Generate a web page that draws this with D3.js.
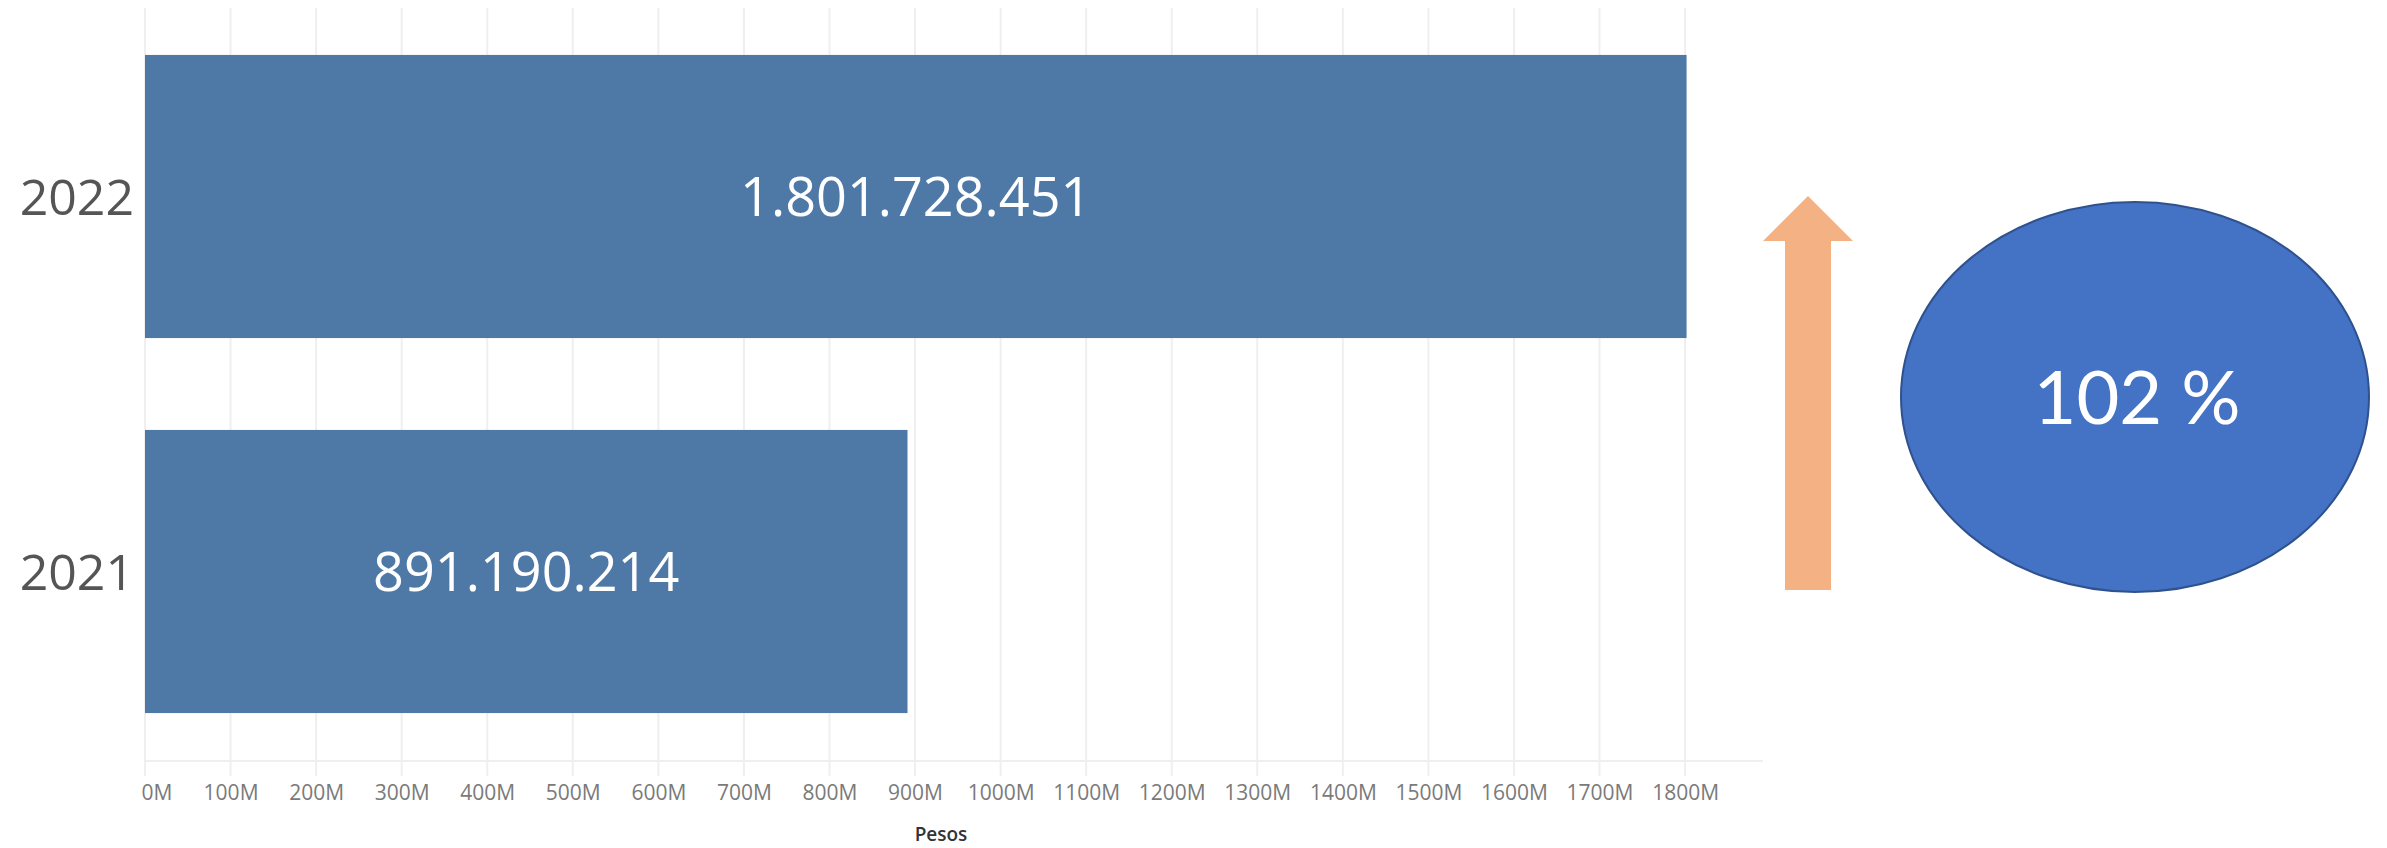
<!DOCTYPE html>
<html>
<head>
	<meta charset="utf-8">
	<title>Pesos 2021-2022</title>
	<script src="https://cdn.jsdelivr.net/npm/d3@7"></script>
</head>
<style type="text/css">
body { margin:0; background:#fff; }
.grid line { stroke:#efefef; stroke-width:2; }
.tick text { font-family:"Open Sans", sans-serif; }
</style>
<body>
</body>
</html>
<script type="text/javascript">
	var years = ["2022", "2021"];
	var values = [1801728451, 891190214];
	var tickValues = [0, 100, 200, 300, 400, 500, 600, 700, 800, 900, 1000, 1100, 1200, 1300, 1400, 1500, 1600, 1700, 1800];
	var axisTitle = "Pesos";

	var w = 2387, h = 848;
	var svg = d3.select("body").append("svg").attr("width", w).attr("height", h);

	var es = d3.formatLocale({decimal: ",", thousands: ".", grouping: [3], currency: ["$", ""]});
	var fmt = es.format(",d");

	var x = d3.scaleLinear()
				.domain([0, 1800])
				.range([145, 145 + 1800 * 0.8556]);
	var y = d3.scaleBand()
				.domain(years)
				.range([9, 759])
				.paddingInner(0.245)
				.paddingOuter(0.1225);

	// vertical gridlines
	svg.append("g").attr("class", "grid").selectAll("line").data(tickValues).enter().append("line")
		.attr("x1", function(d){return x(d)})
		.attr("x2", function(d){return x(d)})
		.attr("y1", 8)
		.attr("y2", 776);
	// axis baseline
	svg.append("line").attr("x1", 145).attr("x2", 1763).attr("y1", 761).attr("y2", 761)
		.attr("stroke", "#efefef").attr("stroke-width", 2);

	var xaxis = d3.axisBottom(x).tickValues(tickValues).tickSize(0).tickPadding(0)
		.tickFormat(function(d){return d + "M"});
	var gx = svg.append("g").attr("transform", "translate(0,785)").call(xaxis);
	gx.select(".domain").remove();
	gx.selectAll("text").attr("font-size", 21).attr("fill", "#7a7a7a").attr("dy", "0.71em");
	gx.selectAll(".tick").filter(function(d){return d === 0}).select("text").attr("text-anchor", "start").attr("dx", -4);

	svg.append("text").attr("x", 941).attr("y", 841).attr("text-anchor", "middle")
		.attr("font-family", "Open Sans, sans-serif").attr("font-weight", 600)
		.attr("font-size", 19).attr("fill", "#333").text(axisTitle);

	// bars
	svg.selectAll("rect.bar").data(values).enter().append("rect")
		.attr("class", "bar")
		.attr("x", x(0))
		.attr("y", function(d,i){return y(years[i])})
		.attr("width", function(d){return x(d / 1e6) - x(0)})
		.attr("height", y.bandwidth())
		.attr("fill", "#4e79a7");

	svg.selectAll("text.val").data(values).enter().append("text")
		.attr("class", "val")
		.attr("x", function(d){return (x(0) + x(d / 1e6)) / 2})
		.attr("y", function(d,i){return y(years[i]) + y.bandwidth() / 2})
		.attr("dy", "0.36em")
		.attr("text-anchor", "middle")
		.attr("font-family", "Open Sans, sans-serif")
		.attr("font-size", 54)
		.attr("fill", "#fff")
		.text(function(d){return fmt(d)});

	// year labels
	svg.selectAll("text.yr").data(years).enter().append("text")
		.attr("class", "yr")
		.attr("x", 134)
		.attr("y", function(d){return y(d) + y.bandwidth() / 2})
		.attr("dy", "0.36em")
		.attr("text-anchor", "end")
		.attr("font-family", "Open Sans, sans-serif")
		.attr("font-size", 50)
		.attr("fill", "#555")
		.text(function(d){return d});

	// arrow + growth ellipse
	svg.append("path")
		.attr("d", "M1808,196 L1853,241 L1831,241 L1831,590 L1785,590 L1785,241 L1763,241 Z")
		.attr("fill", "#f4b183");
	svg.append("ellipse").attr("cx", 2135).attr("cy", 397).attr("rx", 234).attr("ry", 195)
		.attr("fill", "#4472c4").attr("stroke", "#2f528f").attr("stroke-width", 2);
	var growth = Math.round((values[0] / values[1] - 1) * 100);
	svg.append("text").attr("x", 2137).attr("y", 397).attr("dy", "0.36em").attr("text-anchor", "middle")
		.attr("font-family", "Lato, sans-serif").attr("font-size", 74).attr("fill", "#fff")
		.text(growth + " %");
</script>
